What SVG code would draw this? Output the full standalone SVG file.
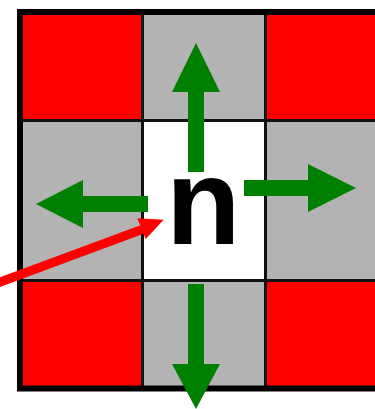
<svg xmlns="http://www.w3.org/2000/svg" width="375" height="409" viewBox="0 0 375 409">
  <style>
    .red { fill: #ff0000; }
    .gray { fill: #b3b3b3; }
    .white { fill: #ffffff; }
    .grid { stroke: #111111; stroke-width: 3; fill: none; }
    .green { fill: #008000; }
    .label { font-family: "Liberation Sans", Arial, sans-serif; font-weight: bold; font-size: 122px; fill: #000000; }
  </style>
  <rect width="375" height="409" fill="#ffffff"/>
  <g id="cell-top-left"><rect class="red" x="23" y="15" width="120" height="106"/></g>
  <g id="cell-top"><rect class="gray" x="142" y="15" width="124" height="106"/></g>
  <g id="cell-top-right"><rect class="red" x="265" y="15" width="120" height="106"/></g>
  <g id="cell-left"><rect class="gray" x="23" y="120" width="120" height="161"/></g>
  <g id="cell-n">
    <rect class="white" x="142" y="120" width="124" height="161"/>
  </g>
  <g id="cell-right"><rect class="gray" x="265" y="120" width="120" height="161"/></g>
  <g id="cell-bottom-left"><rect class="red" x="23" y="280" width="120" height="106"/></g>
  <g id="cell-bottom"><rect class="gray" x="142" y="280" width="124" height="106"/></g>
  <g id="cell-bottom-right"><rect class="red" x="265" y="280" width="120" height="106"/></g>
  <g id="grid-lines">
    <line class="grid" x1="142.5" y1="12" x2="142.5" y2="388"/>
    <line class="grid" x1="265.5" y1="12" x2="265.5" y2="388"/>
    <line class="grid" x1="20" y1="120.5" x2="400" y2="120.5"/>
    <line class="grid" x1="20" y1="280.5" x2="400" y2="280.5"/>
    <rect x="20" y="12" width="400" height="376.5" fill="none" stroke="#000000" stroke-width="6"/>
  </g>
  <g id="label-n"><text class="label" x="166" y="244">n</text></g>
  <g id="connectors">
    <polygon class="green" points="188,172 188,92 172,92 196,43 220,92 204,92 204,172"/>
    <polygon class="green" points="188,284 188,364 172,364 196,409 220,364 204,364 204,284"/>
    <polygon class="green" points="244,180 308,180 308,164 356,188 308,212 308,196 244,196"/>
    <polygon class="green" points="148,196 83,196 83,180 36,204 83,228 83,212 148,212"/>
    <line x1="-5" y1="284" x2="142" y2="229.5" stroke="#ff0000" stroke-width="9"/>
    <polygon fill="#ff0000" points="163.7,219.7 137.3,218.3 145.7,239"/>
  </g>
</svg>
